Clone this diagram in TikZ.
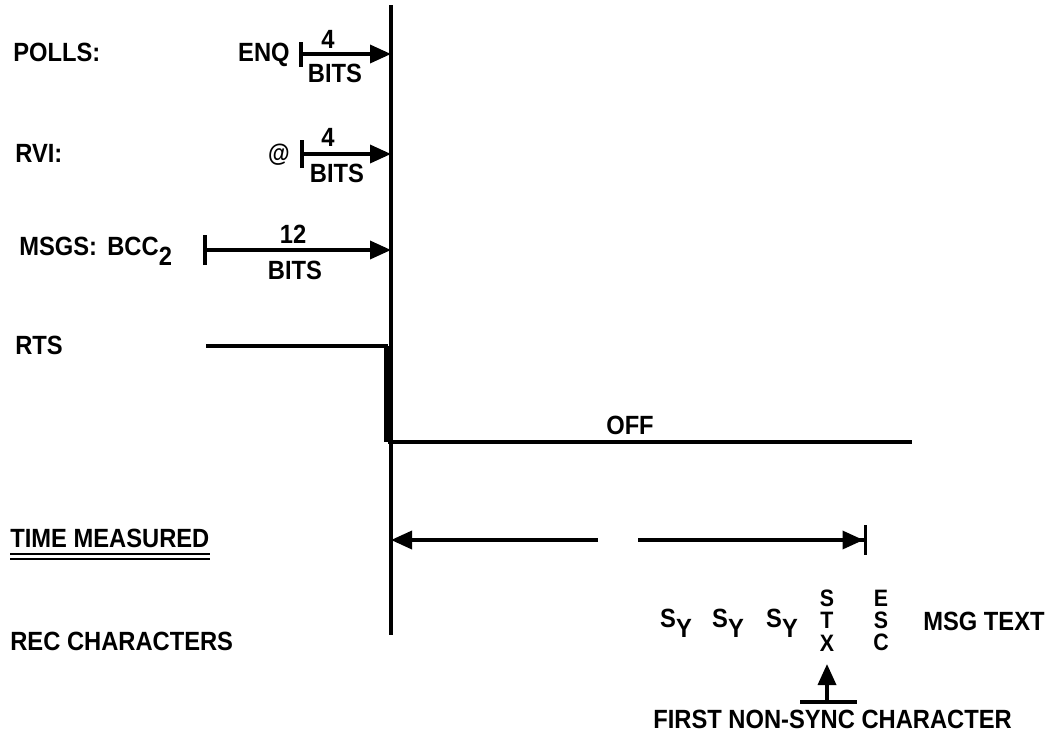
\documentclass[tikz,border=0pt]{standalone}
\usepackage{fontspec}
\setmainfont{Liberation Sans}[FakeStretch=0.9]
\usetikzlibrary{arrows.meta,positioning}

\begin{document}
\begin{tikzpicture}[
    x=0.2mm,y=-0.2mm,
    txt/.style={font=\bfseries\fontsize{15}{16}\selectfont,inner sep=0pt},
    letter/.style={txt,font=\bfseries\fontsize{13.5}{14}\selectfont,text height=7pt,text depth=0pt},
    sig/.style={line width=2pt},
    >={Triangle[length=4.2mm,width=3.6mm]}
]
\useasboundingbox (0,0) rectangle (1057,737);
% time axis
\coordinate (top) at (391,5);
\coordinate (bot) at (391,635);
\draw[sig] (top) -- (bot);

% polls
\node[txt,anchor=west] (polls) at (13,52) {POLLS:};
\node[txt,anchor=east] (enq) at (290,55) {ENQ};
\coordinate (pollsstart) at (299,54);
\draw[sig,{Bar[width=5mm]}->] (pollsstart) -- (pollsstart -| top);
\node[txt] (pollsn) at (328,39) {4};
\node[txt] (pollsbits) at (335,73) {BITS};

% rvi
\node[txt,anchor=west] (rvi) at (15,153) {RVI:};
\node[txt,font=\bfseries\fontsize{14}{14}\selectfont] (at) at (279,155) {@};
\coordinate (rvistart) at (300,154);
\draw[sig,{Bar[width=5.6mm]}->] (rvistart) -- (rvistart -| top);
\node[txt] (rvin) at (328,137) {4};
\node[txt] (rvibits) at (337,173) {BITS};

% msgs
\node[txt,anchor=base west] (msgs) at (19,255) {MSGS:};
\node[txt,anchor=base west] (bcc) at (107,255) {BCC\raisebox{-6pt}{2}};
\coordinate (msgsstart) at (203,250);
\draw[sig,{Bar[width=6mm]}->] (msgsstart) -- (msgsstart -| top);
\node[txt] (msgsn) at (293,234) {12};
\node[txt] (msgsbits) at (295,270) {BITS};

% rts
\node[txt,anchor=west] (rts) at (15,345) {RTS};
\coordinate (rtson) at (206,346);
\coordinate (rtsdrop) at (388,346);
\coordinate (rtsoff) at (388,442);
\coordinate (rtsend) at (912,442);
\draw[sig] (rtson) -- (rtsdrop);
\draw[line width=4.5pt] (rtsdrop) -- (rtsoff);
\draw[sig] (rtsoff) -- (rtsend);
\node[txt] (off) at (630,425) {OFF};

% time measured
\node[txt,anchor=west] (tm) at (10,538) {TIME MEASURED};
\draw[line width=1pt] ([yshift=-3.2mm]tm.west) -- ([yshift=-3.2mm]tm.east);
\draw[line width=1pt] ([yshift=-4.2mm]tm.west) -- ([yshift=-4.2mm]tm.east);
\coordinate (gapl) at (598,540);
\coordinate (gapr) at (638,540);
\coordinate (tmend) at (867,540);
\draw[sig,->] (gapl) -- (gapl -| top);
\draw[sig,-{Triangle[length=4.2mm,width=3.6mm]Bar[width=6mm]}] (gapr) -- (tmend);

% received characters
\node[txt,anchor=west] (rec) at (10,641) {REC CHARACTERS};
\node[txt,anchor=base] (sy1) at (676,627) {S\raisebox{-6pt}{Y}};
\node[txt,anchor=base] (sy2) at (728,627) {S\raisebox{-6pt}{Y}};
\node[txt,anchor=base] (sy3) at (782,627) {S\raisebox{-6pt}{Y}};
\node[letter] (stxs) at (827,600) {S};
\node[letter] (stxt) at (827,622) {T};
\node[letter] (stxx) at (827,645) {X};
\node[letter] (esce) at (881,600) {E};
\node[letter] (escs) at (881,622) {S};
\node[letter] (escc) at (881,644) {C};
\node[txt,anchor=west] (msgtext) at (923,621) {MSG TEXT};

% first non-sync
\coordinate (fnsl) at (800,702);
\coordinate (fnsr) at (857,702);
\coordinate (fnsm) at (827,702);
\coordinate (fnstip) at (827,664);
\draw[sig] (fnsl) -- (fnsr);
\draw[sig,->] (fnsm) -- (fnstip);
\node[txt,anchor=west] (fns) at (653,719) {FIRST NON-SYNC CHARACTER};
\end{tikzpicture}
\end{document}
